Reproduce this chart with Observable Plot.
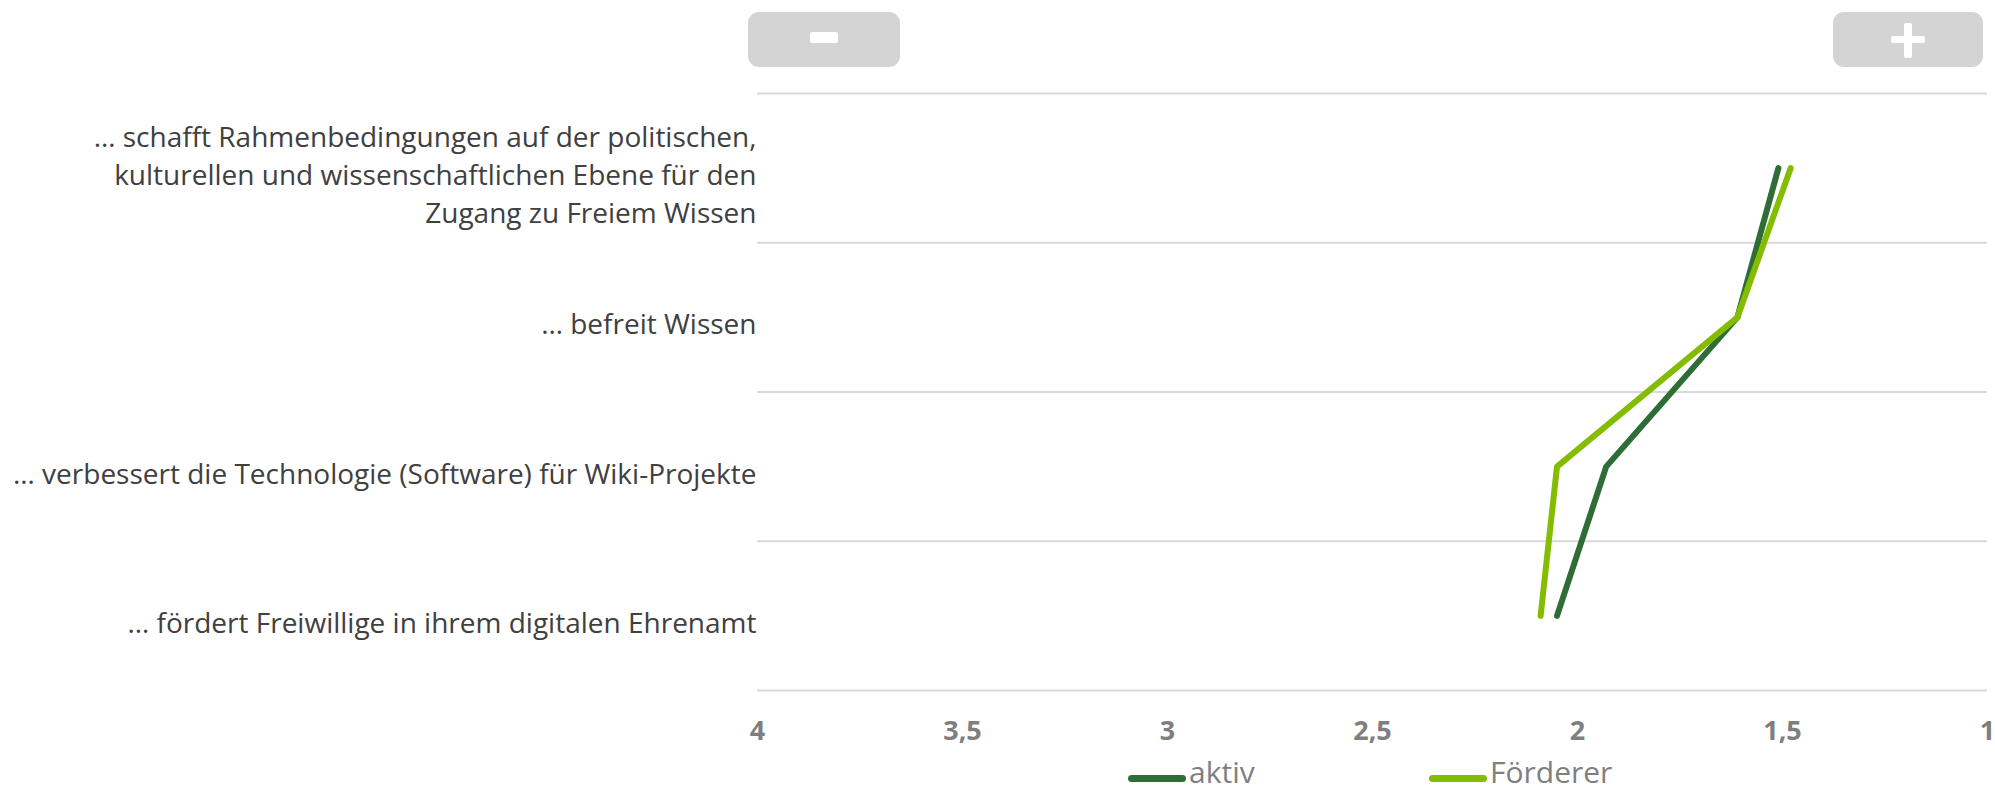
<!DOCTYPE html>
<html>
<head>
<meta charset="utf-8">
<script src="https://cdn.jsdelivr.net/npm/d3@7"></script>
<script src="https://cdn.jsdelivr.net/npm/@observablehq/plot@0.6"></script>
<style>
  html, body { margin: 0; padding: 0; background: #fff; }
  body { width: 1995px; height: 796px; overflow: hidden; font-family: "Open Sans", sans-serif; }
  #header { position: relative; height: 78px; }
  .btn { position: absolute; top: 12px; height: 55px; background: #d4d4d4; border-radius: 11px; }
  .btn.minus { left: 748px; width: 152px; }
  .btn.plus { left: 1833px; width: 150px; }
  .btn .dash { position: absolute; background: #fff; border-radius: 2px; }
  #legend { position: relative; height: 28px; }
  .item { position: absolute; top: -9px; display: flex; align-items: center; font-size: 30px; color: #7f7f7f; line-height: 26px; height: 26px; }
  .sw { width: 58px; height: 7px; border-radius: 4px; margin-right: 3px; position: relative; top: 6px; }
</style>
</head>
<body>
<div id="header">
  <div class="btn minus"><div class="dash" style="left:62px;top:20px;width:28px;height:11px;"></div></div>
  <div class="btn plus">
    <div class="dash" style="left:58px;top:24px;width:34px;height:7px;"></div>
    <div class="dash" style="left:71px;top:11px;width:8px;height:35px;"></div>
  </div>
</div>
<div id="chart"></div>
<div id="legend"></div>
<script>
// ---- data ----
const categories = [
  "… schafft Rahmenbedingungen auf der politischen, kulturellen und wissenschaftlichen Ebene für den Zugang zu Freiem Wissen",
  "… befreit Wissen",
  "… verbessert die Technologie (Software) für Wiki-Projekte",
  "… fördert Freiwillige in ihrem digitalen Ehrenamt"
];
const categoryLabels = [
  "… schafft Rahmenbedingungen auf der politischen,\nkulturellen und wissenschaftlichen Ebene für den\nZugang zu Freiem Wissen",
  "… befreit Wissen",
  "… verbessert die Technologie (Software) für Wiki-Projekte",
  "… fördert Freiwillige in ihrem digitalen Ehrenamt"
];
const seriesNames = ["aktiv", "Förderer"];
const aktivValues = [1.51, 1.61, 1.93, 2.05];
const foerdererValues = [1.48, 1.61, 2.05, 2.09];
const xTicks = [4, 3.5, 3, 2.5, 2, 1.5, 1];
const seriesColors = ["#2e6d36", "#84bc00"];

// ---- table ----
const valuesBySeries = [aktivValues, foerdererValues];
const rows = [];
seriesNames.forEach((s, si) => {
  categories.forEach((c, ci) => {
    rows.push({series: s, category: c, index: ci, value: valuesBySeries[si][ci]});
  });
});
const gridPositions = d3.range(categories.length + 1).map(i => i - 0.5);
const fmt = d => String(d).replace(".", ",");

const chart = Plot.plot({
  width: 1995,
  height: 690,
  marginTop: 15,
  marginBottom: 78,
  marginLeft: 757,
  marginRight: 8,
  style: {fontFamily: "'Open Sans', sans-serif", background: "#fff"},
  x: {domain: [4, 1], ticks: xTicks},
  y: {domain: [categories.length - 0.5, -0.5]},
  color: {domain: seriesNames, range: seriesColors},
  marks: [
    Plot.ruleY(gridPositions, {stroke: "#d9d9d9", strokeWidth: 2}),
    Plot.axisX({
      ticks: xTicks, tickFormat: fmt, tickSize: 0, tickPadding: 30,
      fontSize: 27, fontWeight: "bold", fill: "#7f7f7f", label: null
    }),
    Plot.axisY({
      ticks: d3.range(categories.length), tickFormat: i => categoryLabels[i],
      tickSize: 0, tickPadding: 1, fontSize: 28, fill: "#404040",
      lineHeight: 1.35, dy: 5, label: null
    }),
    Plot.line(rows, {
      x: "value", y: "index", z: "series", stroke: "series",
      strokeWidth: 6, strokeLinecap: "round", strokeLinejoin: "round"
    })
  ]
});
document.getElementById("chart").appendChild(chart);

// ---- legend ----
const legend = document.getElementById("legend");
const legendLefts = [1128, 1429];
seriesNames.forEach((s, i) => {
  const item = document.createElement("div");
  item.className = "item";
  item.style.left = legendLefts[i] + "px";
  const sw = document.createElement("span");
  sw.className = "sw";
  sw.style.background = seriesColors[i];
  const t = document.createElement("span");
  t.textContent = s;
  item.appendChild(sw);
  item.appendChild(t);
  legend.appendChild(item);
});
</script>
</body>
</html>
